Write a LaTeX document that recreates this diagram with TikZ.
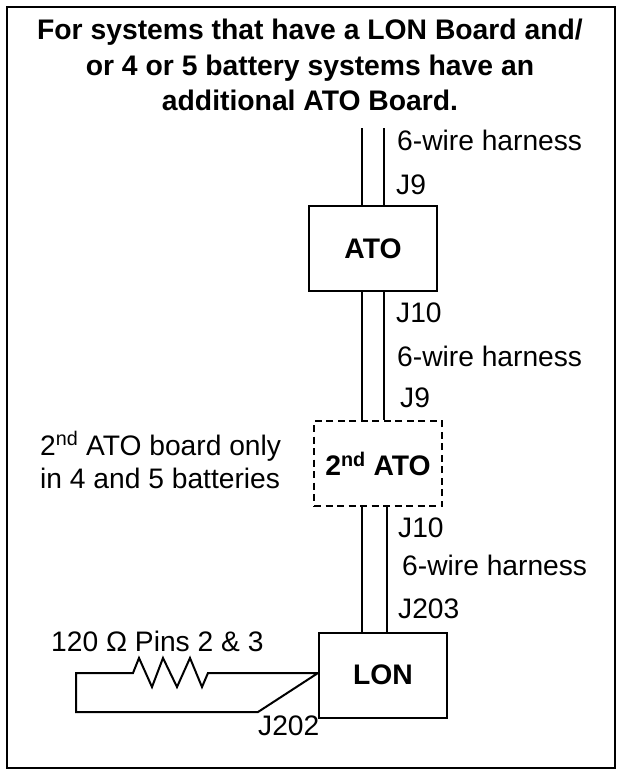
\documentclass[tikz,border=0pt]{standalone}
\usepackage{fontspec}
\setmainfont{Liberation Sans}
\begin{document}
\begin{tikzpicture}[x=1pt,y=-1pt,
  frame/.style={draw,line width=2pt},
  board/.style={draw,line width=2pt,minimum width=128pt,minimum height=85pt,inner sep=0pt,font=\fontsize{28.3}{34}\selectfont\bfseries},
  optboard/.style={board,dash pattern=on 7pt off 4.5pt},
  wire/.style={line width=2pt},
  lbl/.style={anchor=base west,inner sep=0pt,font=\fontsize{28.2}{34}\selectfont},
  ttl/.style={anchor=base,inner sep=0pt,font=\fontsize{28.3}{34}\selectfont\bfseries}]
\useasboundingbox (0,0) rectangle (621,772);
\draw[frame] (7,7) rectangle (615,768);
% title
\node[ttl] (t1) at (310,39) {For systems that have a LON Board and/};
\node[ttl] (t2) at (310,75) {or 4 or 5 battery systems have an};
\node[ttl] (t3) at (310,110) {additional ATO Board.};
% boards
\node[board] (ato) at (373,248.5) {ATO};
\node[optboard] (ato2) at (378,463.5) {2\textsuperscript{nd} ATO};
\node[board] (lon) at (383,675) {LON};
% top harness
\coordinate (in1) at (362,128);
\coordinate (in2) at (384,128);
\draw[wire] (in1) -- (in1 |- ato.north);
\draw[wire] (in2) -- (in2 |- ato.north);
% ATO to 2nd ATO
\draw[wire] (in1 |- ato.south) -- (in1 |- ato2.north);
\draw[wire] (in2 |- ato.south) -- (in2 |- ato2.north);
% 2nd ATO to LON
\coordinate (w1) at (362,0);
\coordinate (w2) at (387,0);
\draw[wire] (w1 |- ato2.south) -- (w1 |- lon.north);
\draw[wire] (w2 |- ato2.south) -- (w2 |- lon.north);
% labels
\node[lbl] (h1) at (397,150) {6-wire harness};
\node[lbl] (j9a) at (396,194) {J9};
\node[lbl] (j10a) at (396,322) {J10};
\node[lbl] (h2) at (397,366) {6-wire harness};
\node[lbl] (j9b) at (400,407) {J9};
\node[lbl] (j10b) at (398,537) {J10};
\node[lbl] (h3) at (402,575) {6-wire harness};
\node[lbl] (j203) at (398,618) {J203};
\node[lbl] (note1) at (40,455) {2\textsuperscript{nd} ATO board only};
\node[lbl] (note2) at (40,488) {in 4 and 5 batteries};
\node[lbl] (res) at (51,651) {120 Ω Pins 2 \& 3};
\node[lbl] (j202) at (258,735) {J202};
% resistor loop
\coordinate (p1) at (lon.west |- 0,673);
\coordinate (r1) at (208,673);
\coordinate (r0) at (133,673);
\coordinate (c1) at (76,673);
\coordinate (c2) at (76,712);
\coordinate (c3) at (258,712);
\draw[wire,line join=miter] (p1) -- (r1) -- (202,687) -- (190,658) -- (177,687) -- (163,658) -- (152,687) -- (139,658) -- (r0) -- (c1) -- (c2) -- (c3) -- (p1);
\end{tikzpicture}
\end{document}
